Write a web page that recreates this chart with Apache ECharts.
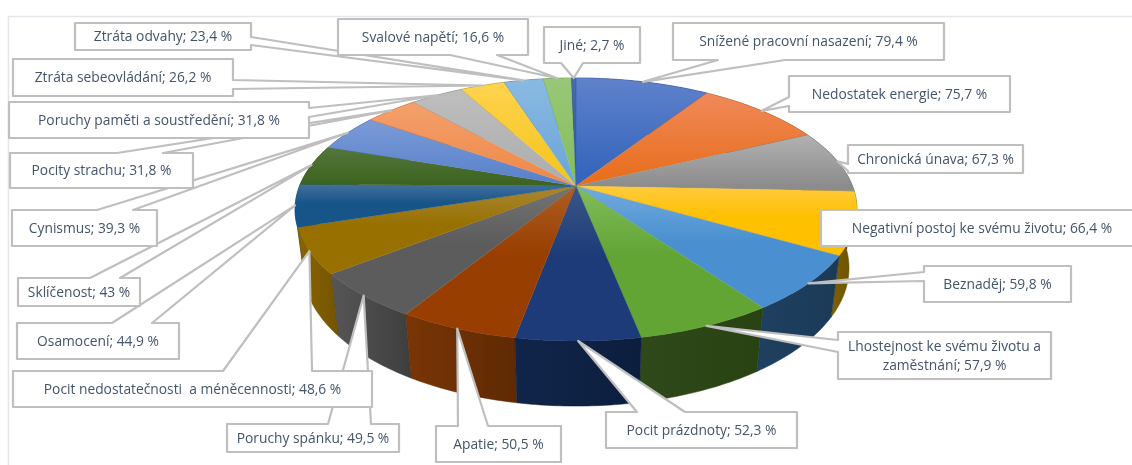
<!DOCTYPE html>
<html><head><meta charset="utf-8">
<style>html,body{margin:0;padding:0;background:#fff}#c{width:1132px;height:465px}</style>
<script src="https://cdn.jsdelivr.net/npm/echarts@6/dist/echarts.min.js"></script></head>
<body><div id="c"></div>
<script>
const categories = ['Snížené pracovní nasazení','Nedostatek energie','Chronická únava','Negativní postoj ke svému životu','Beznaděj','Lhostejnost ke svému životu a\nzaměstnání','Pocit prázdnoty','Apatie','Poruchy spánku','Pocit nedostatečnosti  a méněcennosti','Osamocení','Sklíčenost','Cynismus','Pocity strachu','Poruchy paměti a soustředění','Ztráta sebeovládání','Ztráta odvahy','Svalové napětí','Jiné'];
const values = [79.4,75.7,67.3,66.4,59.8,57.9,52.3,50.5,49.5,48.6,44.9,43,39.3,31.8,31.8,26.2,23.4,16.6,2.7];

// Styles and layout, separate from the data
const topLight = ['#5F82CB','#F0895A','#B2B2B2','#FFCB3E','#72ABDE','#82BC5C','#3C5688','#AE5E25','#747474','#A98732','#44709C','#54773C','#7B9BD6','#F4A06C','#BEBEBE','#FFD34F','#8ABAE2','#98C878','#4A6CAA'];
const topDark = ['#3565BC','#E86F1E','#8C8C8C','#FFC000','#4A90D0','#62A535','#1C3B78','#983E00','#5C5C5C','#977000','#175488','#3D6420','#5A82CC','#EE8A4A','#AEAEAE','#F5C520','#6CA6DA','#86BE5E','#2F5599'];
const wallLight = ['#22386A','#7A3A10','#4C4C4C','#806000','#1F4060','#30491A','#10254A','#7A3505','#565656','#8A6400','#174A78','#24401A','#3A5488','#90542A','#6A6A6A','#907018','#3F6A8E','#4F7038','#1F3868'];
const wallDark = ['#1E325E','#6A320C','#404040','#665000','#1B3A58','#294212','#0C1E3E','#5E2A04','#3E3E3E','#745400','#123C62','#1E3614','#304874','#7A4620','#5A5A5A','#7A5E10','#345A7A','#425E2E','#1A305C'];

// [left, top, right, bottom, edge carrying the pointer, pointer start, pointer end]
const calloutBoxes = [
  [673,23,944,60,'b',718,785],
  [789,76,1010,112,'l',97,106],
  [848,145,1023,173,'l',164,171],
  [821,210,1143,246,null,0,0],
  [924,266,1071,302,'l',272,281],
  [838,332,1051,379,'l',340,352],
  [606,412,797,448,'t',637,685],
  [436,426,561,462,'t',458,488],
  [227,424,399,452,'t',328,371],
  [13,371,372,407,'t',223,312],
  [17,323,179,359,'t',112,152],
  [18,278,140,306,'t',90,120],
  [12,210,157,246,'t',97,133],
  [10,153,193,188,'t',117,163],
  [9,102,309,138,'r',108,117],
  [13,59,233,96,'r',80,89],
  [75,23,251,50,'r',37,45],
  [338,19,528,55,'b',450,497],
  [544,27,640,63,'b',561,583]
];

// Perspective of the tilted disc: plane of the top face and of the lower rim
const view = {cx:576, cy:186, A:276.5, B:127.3, k:0.1787, D:59.7, m:0.0284};
const total = values.reduce((a,b)=>a+b,0);
const starts = []; values.reduce((acc,v,i)=>{starts[i]=acc;return acc+v;},0);
const toAngle = v => v/total*2*Math.PI;
function project(theta, z, r){
  const rr = r===undefined?1:r;
  const X = rr*Math.sin(theta), Y = rr*Math.cos(theta);
  const w = 1+view.k*Y+view.m*z;
  return [view.cx+view.A*X/w, view.cy+(-view.B*Y+view.D*z)/w];
}
function arc(a0,a1,z){
  const n = Math.max(2,Math.ceil((a1-a0)/0.015)), pts=[];
  for(let i=0;i<=n;i++) pts.push(project(a0+(a1-a0)*i/n,z));
  return pts;
}
const grad = (stops,horizontal)=>new echarts.graphic.LinearGradient(0,0,horizontal?1:0,horizontal?0:1,stops);

function renderWall(params, api){
  const i = params.dataIndex, a0=toAngle(starts[i]), a1=a0+toAngle(api.value(0));
  const pts = arc(a0,a1,0).concat(arc(a0,a1,1).reverse());
  const fill = grad([{offset:0,color:wallLight[i]},{offset:1,color:wallDark[i]}],true);
  return {type:'polygon', z2: Math.round(100-100*Math.cos((a0+a1)/2)), shape:{points:pts}, style:{fill, stroke:wallDark[i], lineWidth:0.5}, silent:true};
}
function renderTop(params, api){
  const i = params.dataIndex, a0=toAngle(starts[i]), a1=a0+toAngle(api.value(0));
  const pts = [project(0,0,0)].concat(arc(a0,a1,0));
  const knee = Math.cos((a0+a1)/2) > 0 ? 0.9 : 0.45;
  const fill = grad([{offset:0,color:topLight[i]},{offset:knee,color:topDark[i]},{offset:1,color:topDark[i]}]);
  return {type:'polygon', shape:{points:pts}, style:{fill, stroke:topDark[i], lineWidth:0.3}, silent:true};
}
function renderCallout(params, api){
  const i = params.dataIndex, v = api.value(0);
  const mid = toAngle(starts[i]+v/2), tip = project(mid,0);
  const [l,t,r,b,edge,p,q] = calloutBoxes[i];
  let pts;
  if(edge==='t') pts=[[l,t],[p,t],tip,[q,t],[r,t],[r,b],[l,b]];
  else if(edge==='b') pts=[[l,t],[r,t],[r,b],[q,b],tip,[p,b],[l,b]];
  else if(edge==='l') pts=[[l,t],[r,t],[r,b],[l,b],[l,q],tip,[l,p]];
  else if(edge==='r') pts=[[l,t],[r,t],[r,p],tip,[r,q],[r,b],[l,b]];
  else pts=[[l,t],[r,t],[r,b],[l,b]];
  const label = categories[i]+'; '+String(v).replace('.',',')+' %';
  return {type:'group', silent:true, children:[
    {type:'polygon', z2:i*2, shape:{points:pts}, style:{fill:'#fff', stroke:'#BFBFBF', lineWidth:2.2, lineJoin:'round'}},
    {type:'text', z2:i*2+1, x:(l+r)/2, y:(t+b)/2+1, style:{text:label, fill:'#44546A', font:'13.8px "Open Sans"', align:'center', verticalAlign:'middle', lineHeight:19}}
  ]};
}
const chart = echarts.init(document.getElementById('c'),null,{renderer:'canvas'});
chart.setOption({
  animation:false,
  backgroundColor:'#fff',
  graphic:[
    {type:'line', z:0, shape:{x1:8,y1:16.5,x2:1132,y2:16.5}, style:{stroke:'#E3E7EC',lineWidth:1.5}},
    {type:'line', z:0, shape:{x1:8.5,y1:16,x2:8.5,y2:465}, style:{stroke:'#E3E7EC',lineWidth:1.5}}
  ],
  series:[
    {type:'custom', coordinateSystem:'none', z:2, data:values, renderItem:renderWall, silent:true},
    {type:'custom', coordinateSystem:'none', z:3, data:values, renderItem:renderTop, silent:true},
    {type:'custom', coordinateSystem:'none', z:4, data:values, renderItem:renderCallout, silent:true}
  ]
});
</script></body></html>
